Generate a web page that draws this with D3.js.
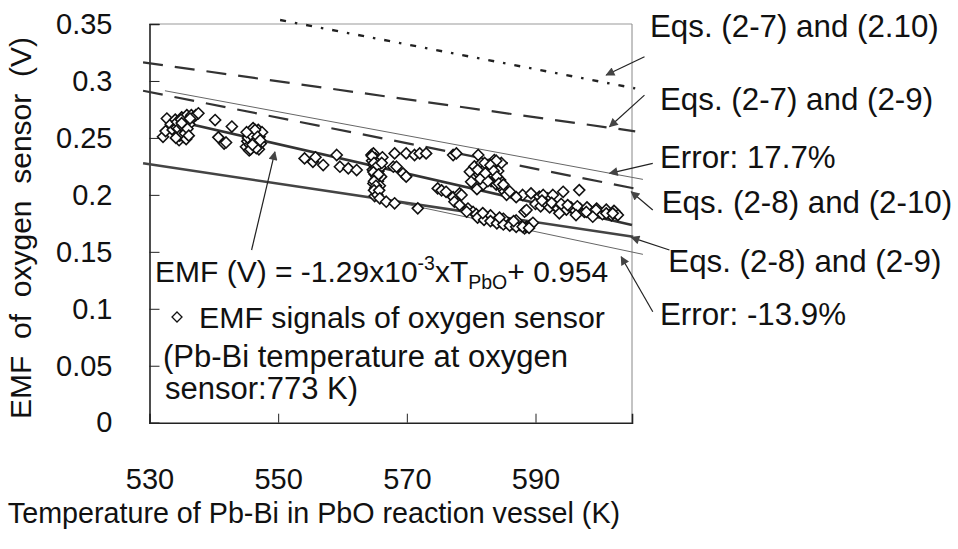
<!DOCTYPE html>
<html><head><meta charset="utf-8">
<script src="https://cdn.jsdelivr.net/npm/d3@7"></script>
<style>
body{margin:0;background:#fff;}
svg text{font-family:"Liberation Sans",Arial,sans-serif;fill:#111;}
</style></head>
<body><svg id="c" width="958" height="549"></svg>
<script>
// ---- data ----
const xTicks = [530, 550, 570, 590];
const yTicks = [0, 0.05, 0.1, 0.15, 0.2, 0.25, 0.3, 0.35];
const yTickLabels = ["0", "0.05", "0.1", "0.15", "0.2", "0.25", "0.3", "0.35"];

// measured EMF signals (T in K, EMF in V)
const tempK = [
532.1,532.5,532.7,533.3,533.6,534.0,534.2,534.4,534.6,534.8,535.0,535.1,535.3,535.4,535.6,535.8,536.0,536.2,536.5,536.8,537.2,537.6,
534.3,534.5,534.7,534.9,535.2,535.5,535.7,535.9,536.1,536.3,534.1,535.0,
540.2,542.8,540.7,541.6,541.9,
545.0,545.2,545.4,545.6,545.8,546.0,546.1,546.3,546.5,546.7,546.9,547.1,547.3,547.5,547.0,545.5,
545.3,545.7,545.9,546.2,546.4,546.6,546.8,547.2,545.1,546.0,
554.1,555.4,557.0,555.8,559.1,559.6,560.9,562.2,
564.5,564.8,564.6,564.9,565.1,564.7,565.0,565.2,564.8,565.1,565.3,565.0,565.4,565.6,565.5,565.7,565.9,566.0,565.8,566.2,
564.6,564.9,565.2,564.8,565.3,564.9,565.2,564.9,565.4,565.6,565.7,566.1,
565.8,566.8,568.1,571.7,
568.1,569.9,571.2,572.0,573.0,567.9,569.4,569.9,568.4,
577.2,577.7,581.1,583.6,584.7,583.9,
579.8,580.5,581.2,581.6,582.0,582.3,582.5,582.8,583.1,583.3,583.6,583.9,584.2,584.5,584.8,585.2,585.5,580.0,581.8,580.9,
581.0,581.4,582.1,582.6,583.0,583.5,584.0,584.3,585.0,582.2,
574.8,575.4,576.1,577.2,578.2,578.5,577.4,578.2,579.5,580.3,579.3,
580.8,581.5,582.2,582.8,583.4,584.0,584.6,585.2,585.8,586.4,587.0,587.6,588.3,588.6,589.2,589.6,583.0,585.0,587.0,
581.0,582.0,583.0,584.0,585.0,586.0,587.0,588.0,589.0,581.8,584.4,586.6,
588.3,588.6,
588.0,589.3,590.6,591.9,591.2,592.7,594.3,596.8,586.0,587.0,
590.0,590.8,591.5,592.2,592.9,593.5,594.2,594.8,595.5,596.2,596.9,597.6,598.3,599.0,599.7,600.4,601.1,601.8,602.5,
591.0,592.5,594.0,595.0,596.5,598.0,599.5,601.0,602.2,
597.9,599.4,601.0,602.8,593.7,596.3,598.9,602.0
];
const emfV = [
0.251,0.256,0.267,0.262,0.257,0.266,0.259,0.253,0.248,0.262,0.268,0.256,0.251,0.263,0.259,0.270,0.266,0.262,0.270,0.268,0.270,0.2716,
0.264,0.258,0.252,0.266,0.260,0.254,0.249,0.258,0.252,0.267,0.250,0.263,
0.2657,0.260,0.2505,0.245,0.246,
0.2422,0.247,0.252,0.244,0.256,0.249,0.2586,0.243,0.254,0.247,0.257,0.251,0.245,0.255,0.240,0.239,
0.250,0.240,0.252,0.246,0.257,0.241,0.251,0.248,0.255,0.244,
0.232,0.229,0.2262,0.233,0.235,0.2247,0.2233,0.2218,
0.235,0.2364,0.230,0.226,0.232,0.222,0.218,0.214,0.210,0.206,0.202,0.199,0.226,0.221,0.212,0.229,0.224,0.216,0.208,0.233,
0.234,0.228,0.224,0.220,0.216,0.212,0.208,0.204,0.200,0.218,0.204,0.228,
0.197,0.194,0.1926,0.1882,
0.2364,0.2364,0.235,0.2364,0.2364,0.2247,0.2189,0.216,0.2247,
0.235,0.2364,0.235,0.2306,0.228,0.230,
0.2203,0.225,0.218,0.228,0.222,0.215,0.226,0.219,0.212,0.224,0.217,0.209,0.221,0.213,0.206,0.203,0.200,0.2115,0.2086,0.205,
0.222,0.214,0.228,0.212,0.226,0.221,0.216,0.210,0.209,0.219,
0.2057,0.204,0.2027,0.198,0.2013,0.1999,0.194,0.191,0.188,0.185,0.1852,
0.183,0.181,0.180,0.179,0.178,0.177,0.176,0.1755,0.175,0.1745,0.174,0.1735,0.1706,0.172,0.1735,0.1755,0.182,0.179,0.1775,
0.180,0.178,0.177,0.175,0.174,0.173,0.172,0.172,0.171,0.184,0.180,0.177,
0.1852,0.1867,
0.1999,0.2013,0.1984,0.197,0.1999,0.1999,0.2027,0.2042,0.203,0.198,
0.192,0.190,0.193,0.189,0.191,0.188,0.190,0.187,0.189,0.186,0.188,0.185,0.187,0.184,0.186,0.183,0.185,0.182,0.184,
0.195,0.193,0.192,0.191,0.190,0.189,0.188,0.187,0.186,
0.185,0.1867,0.1838,0.1823,0.1838,0.1823,0.1808,0.1838
];

// reference lines (endpoints, [T, V])
const eq27_210 = [[550.3, 0.3535], [605.5, 0.2935]];
const eq27_29  = [[529.0, 0.3163], [605.5, 0.2558]];
const eq28_210 = [[529.0, 0.2914], [605.3, 0.2057]];
const errUp    = [[532.4, 0.2914], [606.7, 0.2136]];
const eq28_29  = [[529.0, 0.2277], [605.2, 0.1632]];
const errLow   = [[565.0, 0.1976], [606.7, 0.1478]];
const fitLine  = [[532.0, 0.2677], [605.0, 0.1736]];

// annotation arrows ([tail], [head]) in data units
const arrows = [
  [[606.94, 0.3212], [600.99, 0.3052]],
  [[606.94, 0.2876], [601.51, 0.2598]],
  [[608.23, 0.2277], [601.51, 0.2189]],
  [[608.23, 0.1867], [604.88, 0.2027]],
  [[610.82, 0.1516], [604.88, 0.1627]],
  [[608.23, 0.0974], [603.32, 0.1457]],
  [[545.87, 0.1516], [549.49, 0.2378]]
];
const rightLabels = ["Eqs. (2-7) and (2.10)", "Eqs. (2-7) and (2-9)", "Error: 17.7%",
                     "Eqs. (2-8) and (2-10)", "Eqs. (2-8) and (2-9)", "Error: -13.9%"];

// ---- drawing ----
const svg = d3.select("#c");
const L = 149.5, R = 632, T0 = 24, B = 422.7;
const x = d3.scaleLinear().domain([530, 605]).range([L, R]);
const y = d3.scaleLinear().domain([0, 0.35]).range([B, T0]);

// plot border top/right
svg.append("line").attr("x1", L).attr("x2", R).attr("y1", T0).attr("y2", T0).attr("stroke", "#999").attr("stroke-width", 1);
svg.append("line").attr("x1", R).attr("x2", R).attr("y1", T0).attr("y2", B).attr("stroke", "#888").attr("stroke-width", 1);

// axes
const yAxis = svg.append("g").attr("transform", `translate(${L},0)`)
  .call(d3.axisLeft(y).tickValues(yTicks).tickSize(-10).tickFormat((d, i) => yTickLabels[i]).tickPadding(37));
yAxis.select(".domain").attr("stroke", "#222").attr("stroke-width", 1.6);
yAxis.selectAll(".tick line").attr("stroke", "#222").attr("stroke-width", 1);
yAxis.selectAll(".tick text").attr("font-size", 29).attr("fill", "#111").attr("font-family", "Liberation Sans, Arial, sans-serif");
yAxis.select(".tick:first-of-type line").remove();

const xAxis = svg.append("g").attr("transform", `translate(0,${B})`)
  .call(d3.axisBottom(x).tickValues(xTicks).tickSize(-9).tickFormat(d3.format("d")).tickPadding(46));
xAxis.select(".domain").attr("stroke", "#222").attr("stroke-width", 1.6);
xAxis.selectAll(".tick line").attr("stroke", "#222").attr("stroke-width", 1);
xAxis.selectAll(".tick text").attr("font-size", 29).attr("fill", "#111").attr("font-family", "Liberation Sans, Arial, sans-serif");
xAxis.select(".tick:first-of-type line").remove();

const line = d3.line().x(d => x(d[0])).y(d => y(d[1]));
function drawLine(data, color, width, dash) {
  const p = svg.append("path").datum(data).attr("d", line).attr("fill", "none")
    .attr("stroke", color).attr("stroke-width", width);
  if (dash) p.attr("stroke-dasharray", dash);
}
drawLine(eq27_210, "#222", 2.4, "6,9,2.5,9");
drawLine(eq27_29, "#333", 2.2, "20,12");
drawLine(eq28_210, "#333", 2.2, "20,12");
drawLine(errUp, "#666", 1, null);
drawLine(errLow, "#666", 1, null);
drawLine(eq28_29, "#444", 2.6, null);
drawLine(fitLine, "#333", 2.6, null);

// scatter
const pts = tempK.map((t, i) => [t, emfV[i]]);
const dia = "M0,-5.5L5.5,0L0,5.5L-5.5,0Z";
svg.append("g").selectAll("path").data(pts).join("path")
  .attr("d", dia).attr("transform", d => `translate(${x(d[0])},${y(d[1])})`)
  .attr("fill", "#fff").attr("stroke", "#111").attr("stroke-width", 1.6);

// arrows
svg.append("defs").append("marker").attr("id", "ah").attr("viewBox", "0 0 10 10")
  .attr("refX", 9).attr("refY", 5).attr("markerWidth", 11).attr("markerHeight", 9)
  .attr("markerUnits", "userSpaceOnUse").attr("orient", "auto")
  .append("path").attr("d", "M0,0L10,5L0,10Z").attr("fill", "#444");
svg.append("g").selectAll("line").data(arrows).join("line")
  .attr("x1", d => x(d[0][0])).attr("y1", d => y(d[0][1]))
  .attr("x2", d => x(d[1][0])).attr("y2", d => y(d[1][1]))
  .attr("stroke", "#222").attr("stroke-width", 1.2).attr("marker-end", "url(#ah)");

// right labels
const rlPos = [[650, 37], [660, 110], [660, 168], [661.7, 213.3], [668.3, 271.7], [660, 325]];
svg.append("g").selectAll("text").data(rightLabels).join("text")
  .attr("x", (d, i) => rlPos[i][0]).attr("y", (d, i) => rlPos[i][1])
  .attr("font-size", 31.3).text(d => d);

// equation
const eq = svg.append("text").attr("x", 155).attr("y", 281.7).attr("font-size", 30);
eq.append("tspan").text("EMF (V) = -1.29x10");
eq.append("tspan").attr("font-size", 19.5).attr("dy", -12).text("-3");
eq.append("tspan").attr("dy", 12).text("xT");
eq.append("tspan").attr("font-size", 19.5).attr("dy", 7).text("PbO");
eq.append("tspan").attr("dy", -7).text("+ 0.954");

// legend
svg.append("path").attr("d", "M0,-5L5,0L0,5L-5,0Z").attr("transform", "translate(177,317)")
  .attr("fill", "#fff").attr("stroke", "#111").attr("stroke-width", 1.3);
svg.append("text").attr("x", 199).attr("y", 328).attr("font-size", 30.3).text("EMF signals of oxygen sensor");
svg.append("text").attr("x", 163).attr("y", 366.7).attr("font-size", 31).text("(Pb-Bi temperature at oxygen");
svg.append("text").attr("x", 165).attr("y", 399).attr("font-size", 31).text("sensor:773 K)");

// axis titles
svg.append("text").attr("x", 314).attr("y", 523).attr("text-anchor", "middle").attr("font-size", 28.7)
  .text("Temperature of Pb-Bi in PbO reaction vessel (K)");
svg.append("text").attr("transform", "translate(31,228) rotate(-90)").attr("text-anchor", "middle")
  .attr("font-size", 30).style("white-space", "pre").text("EMF  of  oxygen  sensor  (V)");
</script></body></html>
